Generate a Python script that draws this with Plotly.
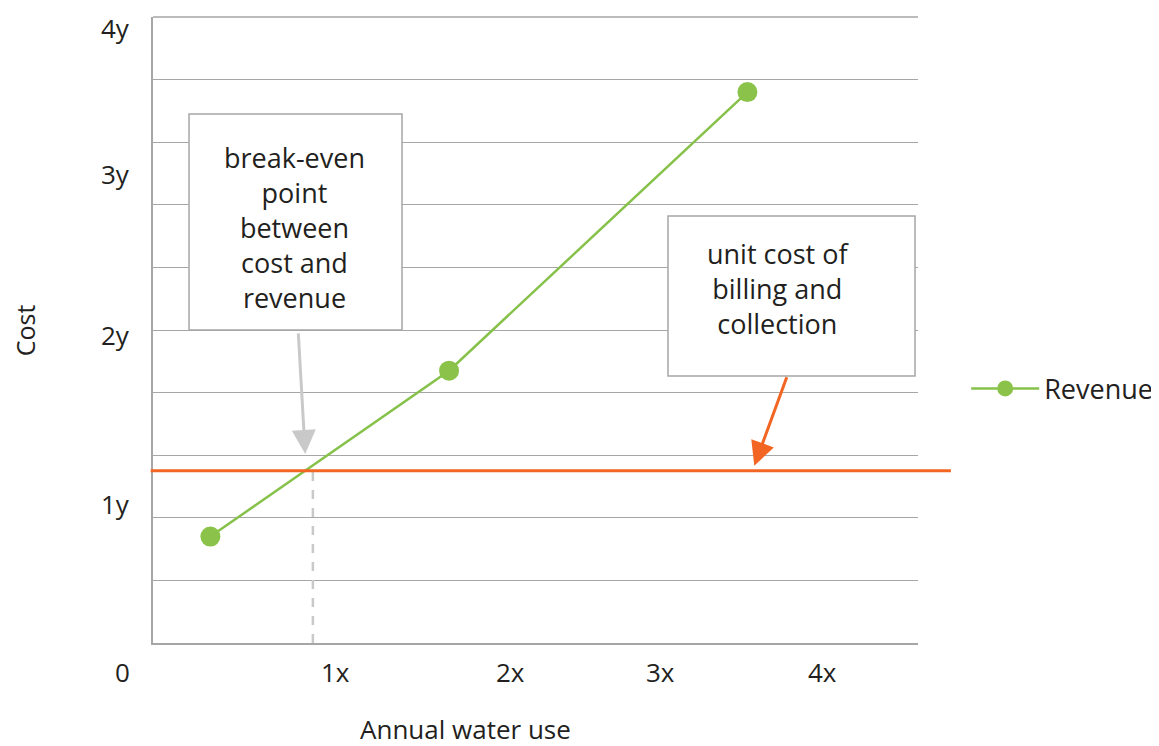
import plotly.graph_objects as go

# ---- data ----
water_use = [0.75, 3.87, 7.77]          # x positions of revenue points (axis units 0..10)
revenue = [1.70, 4.35, 8.80]            # y values of revenue points (axis units 0..10)
unit_cost = 2.75                        # level of the unit cost line
break_even_x = 2.09                     # dashed drop line position

x_tick_text = ["1x", "2x", "3x", "4x"]
x_tick_pos = [2.38, 4.67, 6.64, 8.75]
y_tick_text = ["1y", "2y", "3y", "4y"]
y_tick_pos = [2.22, 4.92, 7.50, 9.82]

FONT = "Open Sans"
TXT = "#231f20"
GRID = "#a6a6a6"
GREEN = "#86c14a"
ORANGE = "#f26522"
LIGHT = "#c9c9c9"

fig = go.Figure()
fig.add_trace(go.Scatter(
    x=water_use, y=revenue, mode="lines+markers", name="Revenue",
    line=dict(color=GREEN, width=2.5),
    marker=dict(size=20, color="#8bc34a"),
))

shapes = [
    # top gridline
    dict(type="line", xref="paper", yref="paper", x0=0, x1=1, y0=1, y1=1,
         line=dict(color=GRID, width=1.3), layer="below"),
    # dashed drop line at break-even
    dict(type="line", xref="x", yref="y", x0=break_even_x, x1=break_even_x,
         y0=0, y1=unit_cost, line=dict(color=LIGHT, width=2.5, dash="dash"), layer="above"),
    # unit cost line
    dict(type="line", xref="paper", yref="y", x0=-0.003, x1=1.043,
         y0=unit_cost, y1=unit_cost, line=dict(color=ORANGE, width=3), layer="above"),
    # text boxes
    dict(type="rect", xref="paper", yref="paper", x0=0.0471, x1=0.3255, y0=0.5, y1=0.845,
         fillcolor="white", line=dict(color=GRID, width=1.5), layer="above"),
    dict(type="rect", xref="paper", yref="paper", x0=0.6732, x1=0.9961, y0=0.4265, y1=0.6821,
         fillcolor="white", line=dict(color=GRID, width=1.5), layer="above"),
]

ann = []
for t, v in zip(y_tick_text, y_tick_pos):
    ann.append(dict(text=t, xref="paper", yref="y", x=-0.028, y=v, xanchor="right",
                    yanchor="middle", showarrow=False, font=dict(size=26, color=TXT, family=FONT)))
for t, v in zip(x_tick_text, x_tick_pos):
    ann.append(dict(text=t, xref="x", yref="paper", x=v, y=-0.046, xanchor="center",
                    yanchor="middle", showarrow=False, font=dict(size=26, color=TXT, family=FONT)))
ann.append(dict(text="0", xref="paper", yref="paper", x=-0.0405, y=-0.046, xanchor="center",
                yanchor="middle", showarrow=False, font=dict(size=26, color=TXT, family=FONT)))
# axis titles
ann.append(dict(text="Annual water use", xref="paper", yref="paper", x=0.408, y=-0.1374,
                xanchor="center", yanchor="middle", showarrow=False,
                font=dict(size=26, color=TXT, family=FONT)))
ann.append(dict(text="Cost", xref="paper", yref="paper", x=-0.167, y=0.5, textangle=-90,
                xanchor="center", yanchor="middle", showarrow=False,
                font=dict(size=25, color=TXT, family=FONT)))
# box texts
ann.append(dict(text="break-even<br>point<br>between<br>cost and<br>revenue", xref="paper", yref="paper",
                x=0.1856, y=0.6645, xanchor="center", yanchor="middle", showarrow=False,
                font=dict(size=27, color=TXT, family=FONT)))
ann.append(dict(text="unit cost of<br>billing and<br>collection", xref="paper", yref="paper",
                x=0.817, y=0.567, xanchor="center", yanchor="middle", showarrow=False,
                font=dict(size=27, color=TXT, family=FONT)))
# arrows
ann.append(dict(text="", xref="x", yref="y", x=1.99, y=3.02, ax=-7, ay=-122,
                axref="pixel", ayref="pixel", showarrow=True, arrowhead=2, arrowsize=1.6,
                arrowwidth=3, arrowcolor=LIGHT, standoff=0))
ann.append(dict(text="", xref="x", yref="y", x=7.86, y=2.83, ax=33, ay=-90,
                axref="pixel", ayref="pixel", showarrow=True, arrowhead=2, arrowsize=1.6,
                arrowwidth=3, arrowcolor=ORANGE, standoff=0))

# page body has an 8px margin, so the figure is shrunk by 8px and margins shifted
fig.update_layout(
    width=1151, height=738, autosize=False,
    margin=dict(l=145, r=241, t=9, b=103, autoexpand=False),
    paper_bgcolor="white", plot_bgcolor="white",
    font=dict(family=FONT, color=TXT),
    showlegend=True,
    legend=dict(x=1.063, y=0.406, xanchor="left", yanchor="middle",
                font=dict(size=27, color=TXT, family=FONT), itemwidth=68,
                bgcolor="rgba(0,0,0,0)"),
    xaxis=dict(range=[0, 10], showgrid=False, zeroline=False, showticklabels=False,
               showline=True, linecolor=GRID, linewidth=1.5, ticks="", fixedrange=True),
    yaxis=dict(range=[0, 10], dtick=1, tick0=0, showgrid=True, gridcolor=GRID, gridwidth=1.3,
               zeroline=False, showticklabels=False, showline=True, linecolor=GRID,
               linewidth=1.5, ticks="", fixedrange=True),
    shapes=shapes, annotations=ann,
)

fig.write_html("out.html")
